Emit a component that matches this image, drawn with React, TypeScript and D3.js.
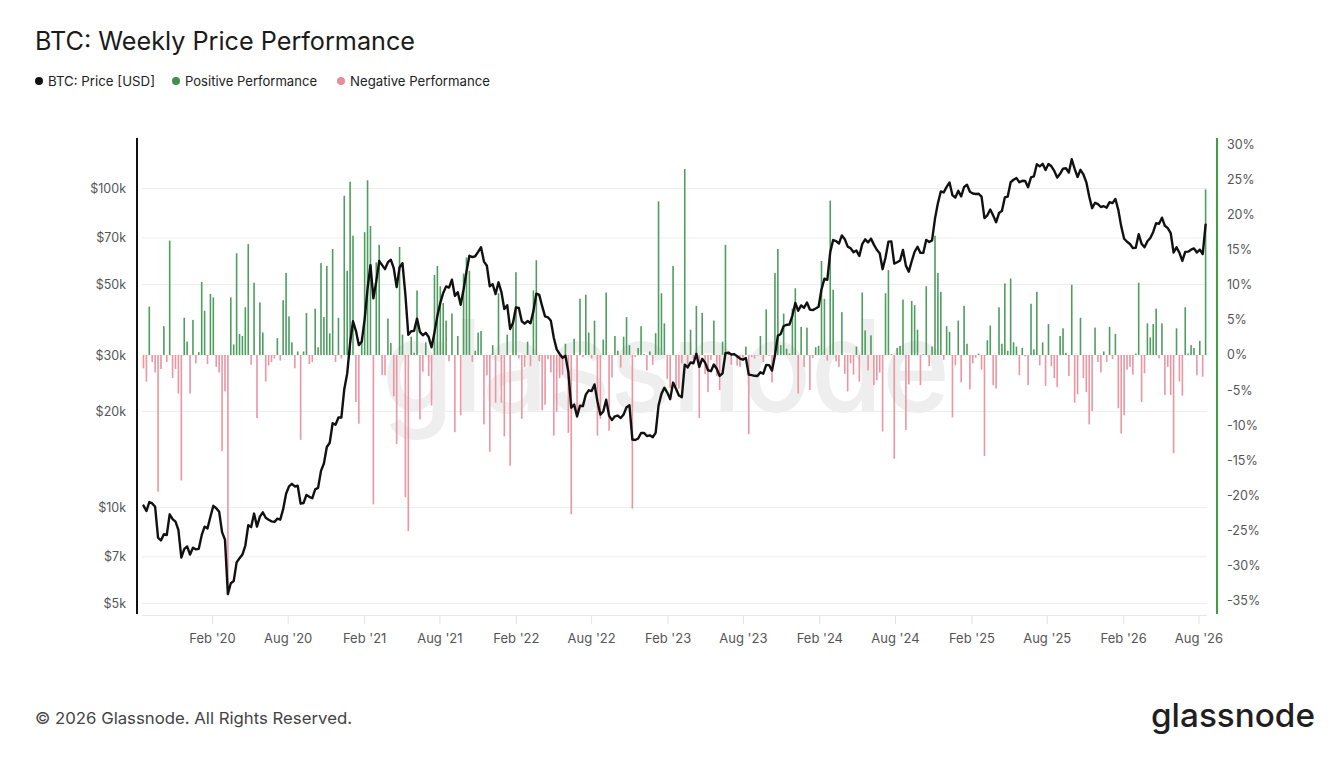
import React from "react";
import * as d3 from "d3";

// ---- data ----
const WEEK0 = "2019-08-19"; // first weekly bucket (Monday)

// BTC weekly close, thousands of USD
const PRICE_K = [
  10.14, 9.75, 10.4, 10.3, 10.05, 8.05, 7.88, 8.25, 8.2, 9.52,
  9.2, 9.03, 8.5, 6.97, 7.4, 7.55, 7.12, 7.48, 7.39, 7.42,
  8.19, 8.71, 8.6, 9.35, 10.12, 9.95, 9.7, 8.37, 7.93, 5.35,
  5.79, 5.88, 6.73, 6.93, 7.12, 7.6, 8.8, 8.68, 9.57, 8.71,
  9.36, 9.66, 9.29, 9.15, 9.05, 9.01, 9.23, 9.16, 9.88, 11.04,
  11.65, 11.86, 11.64, 11.7, 10.28, 10.33, 10.95, 10.8, 10.69, 11.4,
  11.52, 13.03, 13.74, 15.48, 15.96, 18.37, 18.18, 19.15, 19.14, 23.48,
  26.28, 32.78, 38.35, 35.79, 32.29, 33.11, 38.9, 48.58, 57.5, 45.24,
  51.2, 59.23, 57.52, 55.88, 58.76, 59.77, 56.25, 49.08, 56.62, 58.28,
  46.45, 34.77, 35.68, 35.8, 39.1, 35.52, 34.68, 35.29, 34.24, 31.78,
  35.4, 39.88, 43.8, 47.05, 49.34, 48.9, 51.77, 46.06, 47.29, 43.21,
  48.23, 54.94, 61.55, 60.93, 61.32, 63.3, 65.47, 59.0, 57.27, 49.39,
  50.1, 46.68, 50.8, 47.35, 41.86, 43.08, 36.28, 37.92, 42.41, 42.2,
  38.35, 37.7, 38.42, 37.79, 41.26, 46.82, 46.41, 42.76, 39.72, 39.47,
  38.47, 34.06, 31.31, 30.29, 29.44, 29.91, 26.58, 20.55, 21.03, 19.3,
  20.85, 20.79, 22.58, 23.3, 23.18, 24.31, 21.52, 19.56, 19.99, 21.77,
  19.42, 18.8, 19.31, 19.42, 19.07, 19.57, 20.63, 20.92, 16.33, 16.28,
  16.45, 17.13, 17.13, 16.76, 16.84, 16.61, 17.13, 20.88, 22.71, 23.74,
  22.93, 21.86, 24.64, 23.55, 22.43, 22.16, 28.04, 27.49, 28.48, 28.33,
  30.32, 27.59, 29.25, 28.45, 26.93, 26.75, 28.07, 27.22, 25.85, 26.34,
  30.48, 30.59, 30.17, 30.25, 29.79, 29.28, 29.06, 29.41, 26.1, 26.01,
  25.87, 25.84, 26.53, 26.26, 27.98, 27.94, 26.86, 29.99, 34.53, 35.01,
  37.06, 37.39, 37.48, 39.97, 43.78, 41.37, 43.01, 42.27, 43.93, 41.73,
  41.58, 42.04, 42.58, 48.3, 52.14, 51.73, 63.11, 68.96, 68.37, 67.21,
  71.29, 69.36, 65.74, 64.94, 63.12, 63.89, 61.46, 66.94, 69.29, 67.76,
  69.65, 66.68, 64.26, 62.68, 55.86, 60.8, 68.16, 68.26, 58.14, 58.71,
  59.49, 64.18, 57.3, 54.88, 59.13, 63.35, 65.64, 62.82, 62.85, 69.03,
  67.94, 68.78, 80.47, 89.85, 97.9, 97.18, 101.17, 104.46, 95.19, 93.72,
  98.31, 94.5, 101.09, 102.68, 97.69, 96.48, 96.13, 96.28, 94.26, 80.73,
  82.4, 85.9, 82.34, 78.37, 83.74, 85.07, 93.75, 94.32, 104.65, 106.49,
  107.78, 104.64, 105.7, 105.54, 100.97, 108.38, 109.22, 119.09, 117.3, 119.45,
  114.21, 119.29, 117.4, 113.49, 108.24, 111.14, 115.36, 115.72, 112.21, 123.51,
  115.17, 108.67, 114.47, 110.64, 104.72, 94.4, 86.8, 90.2, 89.3, 87.5,
  88.0, 87.1, 90.6, 90.0, 92.7, 85.7, 76.1, 69.6, 68.1, 67.0,
  65.1, 65.2, 71.9, 67.1, 65.4, 68.3, 70.0, 73.1, 77.9, 77.5,
  81.0, 76.4, 75.1, 72.5, 63.0, 65.4, 62.9, 59.3, 63.3, 63.4,
  64.3, 64.9, 63.0, 64.3, 62.3, 77.0,
];

// weekly price performance, %
const PERF = [
  -1.9, -3.8, 6.9, -1.0, -2.5, -19.5, -2.0, 4.1, -1.0, 16.3,
  -3.3, -2.0, -5.5, -17.9, 5.3, 1.9, -5.5, 5.0, -1.2, 0.4,
  10.4, 6.3, -1.3, 8.7, 8.2, -1.7, -2.5, -13.7, -5.2, -34.0,
  8.2, 1.5, 14.5, 3.0, 2.7, 6.8, 15.8, -1.4, 10.3, -9.0,
  7.5, 3.2, -3.8, -1.5, -1.0, -0.5, 2.4, -0.8, 7.8, 11.7,
  5.5, 1.8, -1.9, 0.5, -12.1, 0.5, 6.0, -1.3, -1.0, 6.6,
  1.1, 13.1, 5.4, 12.7, 3.1, 15.1, -1.0, 5.3, -0.5, 22.7,
  12.0, 24.7, 17.0, -6.7, -9.8, 2.5, 17.5, 24.9, 18.4, -21.3,
  13.2, 15.7, -2.9, -2.9, 5.2, 1.7, -5.9, -12.7, 15.4, 2.9,
  -20.3, -25.1, 2.6, 0.3, 9.2, -9.2, -2.4, 1.8, -3.0, -7.2,
  11.4, 12.7, 9.8, 7.4, 4.9, -0.9, 5.9, -11.0, 2.7, -8.6,
  11.6, 13.9, 12.0, -1.0, 0.6, 3.2, 3.4, -9.9, -2.9, -13.8,
  1.4, -6.8, 8.8, -6.8, -11.6, 2.9, -15.8, 4.5, 11.8, -0.5,
  -9.1, -1.7, 1.9, -1.6, 9.2, 13.5, -0.9, -7.9, -7.1, -0.6,
  -2.5, -11.5, -8.1, -3.3, -2.8, 1.6, -11.1, -22.7, 2.3, -8.2,
  8.0, -0.3, 8.6, 3.2, -0.5, 4.9, -11.5, -9.1, 2.2, 8.9,
  -10.8, -3.2, 2.7, 0.6, -1.8, 2.6, 5.4, 1.4, -21.9, -0.3,
  1.0, 4.1, 0.1, -2.2, 0.5, -1.4, 3.1, 21.9, 8.8, 4.5,
  -3.4, -4.7, 12.7, -4.4, -4.8, -1.2, 26.5, -2.0, 3.6, -0.5,
  7.0, -9.0, 6.0, -2.7, -5.3, -0.7, 4.9, -3.0, -5.0, 1.9,
  15.7, 0.4, -1.4, 0.3, -1.5, -1.7, -0.8, 1.2, -11.3, -0.3,
  -0.5, -0.1, 2.7, -1.0, 6.5, -0.1, -3.9, 11.7, 15.1, 1.4,
  5.9, 0.9, 0.2, 6.6, 9.5, -5.5, 4.0, -1.7, 3.9, -5.0,
  -0.4, 1.1, 1.3, 13.4, 8.0, -0.8, 22.0, 9.3, -0.9, -1.7,
  6.1, -2.7, -5.2, -1.2, -2.8, 1.2, -3.8, 8.9, 3.5, -2.2,
  2.8, -4.3, -3.6, -2.5, -10.9, 8.8, 12.1, 0.1, -14.8, 1.0,
  1.3, 7.9, -10.7, -4.2, 7.7, 7.1, 3.6, -4.3, 0.1, 9.8,
  -1.6, 1.2, 17.0, 11.7, 9.0, -0.7, 4.1, 3.3, -8.9, -1.5,
  4.9, -3.9, 7.0, 1.6, -4.9, -1.2, -0.4, 0.2, -2.1, -14.4,
  2.1, 4.2, -4.3, -4.8, 6.8, 1.6, 10.2, 0.6, 10.9, 1.8,
  1.2, -2.9, 1.0, -0.2, -4.3, 7.3, 0.8, 9.0, -1.5, 1.8,
  -4.4, 4.4, -1.6, -3.3, -4.6, 2.7, 3.8, 0.3, -3.0, 10.0,
  -6.8, -5.6, 5.3, -3.3, -5.3, -9.9, -8.0, 3.9, -1.0, -2.5,
  0.5, -1.0, 4.0, -0.6, 3.0, -7.6, -11.2, -8.6, -2.1, -1.7,
  -2.8, 0.2, 10.3, -6.7, -2.6, 4.5, 2.5, 4.4, 6.6, -0.5,
  4.5, -5.7, -1.7, -5.7, -14.0, 3.8, -3.8, -5.8, 6.8, 0.2,
  1.4, 1.0, -2.9, 2.0, -3.1, 23.6,
];

const PRICE_TICKS = [5000, 7000, 10000, 20000, 30000, 50000, 70000, 100000];
const PRICE_TICK_LABELS = ["$5k", "$7k", "$10k", "$20k", "$30k", "$50k", "$70k", "$100k"];
const PERF_TICKS = [30, 25, 20, 15, 10, 5, 0, -5, -10, -15, -20, -25, -30, -35];
const X_TICKS = [
  "2020-02-01", "2020-08-01", "2021-02-01", "2021-08-01", "2022-02-01", "2022-08-01",
  "2023-02-01", "2023-08-01", "2024-02-01", "2024-08-01", "2025-02-01", "2025-08-01",
  "2026-02-01", "2026-08-01",
];

const TITLE = "BTC: Weekly Price Performance";
const LEGEND = [
  { label: "BTC: Price [USD]", color: "#111111" },
  { label: "Positive Performance", color: "#3f8f4f" },
  { label: "Negative Performance", color: "#e88d9b" },
];

const FONT = "Inter, 'Noto Sans', 'DejaVu Sans', sans-serif";
const GREEN = "#4f9d60";
const PINK = "#ec95a3";

export default function App() {
  const parse = d3.utcParse("%Y-%m-%d");
  const week0 = parse(WEEK0) as Date;
  const weeks = PERF.map((_, i) => d3.utcDay.offset(week0, 7 * i));

  const x = d3
    .scaleUtc()
    .domain([parse("2020-02-01") as Date, parse("2026-02-01") as Date])
    .range([212.5, 212.5 + 2192 * 0.4157]);
  const yPrice = d3.scaleLog().domain([10000, 100000]).range([507.5, 188.5]);
  const yPerf = d3.scaleLinear().domain([-35, 30]).range([600.5, 144.5]);

  const gridLeft = 142;
  const gridRight = 1207;
  const axisTop = 138;
  const axisBottom = 614;

  const line = d3
    .line<number>()
    .x((_, i) => x(weeks[i]))
    .y((v) => yPrice(v * 1000))
    .curve(d3.curveLinear);

  const xTickFmt = d3.utcFormat("%b '%y");
  const barW = 1.6;
  const y0 = yPerf(0);

  const legendX = [39, 176, 341];
  const legendW = [107, 132, 140];

  return (
    <svg
      width={1340}
      height={760}
      style={{ position: "absolute", left: 0, top: 0, background: "#fff" }}
      fontFamily={FONT}
    >
      <rect x={0} y={0} width={1340} height={760} fill="#ffffff" />
      <text
        x={35}
        y={50}
        fontSize={25}
        fill="#1a1a1a"
        fontWeight={400}
        textLength={380}
        lengthAdjust="spacingAndGlyphs"
      >
        {TITLE}
      </text>
      {LEGEND.map((d, i) => (
        <g key={d.label}>
          <circle cx={legendX[i]} cy={81} r={4} fill={d.color} />
          <text
            x={legendX[i] + 9}
            y={85.5}
            fontSize={13.2}
            fill="#222"
            textLength={legendW[i]}
            lengthAdjust="spacingAndGlyphs"
          >
            {d.label}
          </text>
        </g>
      ))}

      {/* grid */}
      {PRICE_TICKS.map((t) => (
        <line
          key={"g" + t}
          x1={gridLeft}
          x2={gridRight}
          y1={yPrice(t)}
          y2={yPrice(t)}
          stroke="#ededed"
          strokeWidth={1}
        />
      ))}
      <line x1={gridLeft} x2={gridRight} y1={615.5} y2={615.5} stroke="#e6e6e6" strokeWidth={1} />
      {X_TICKS.map((s) => {
        const d = parse(s) as Date;
        const xx = x(d);
        return (
          <g key={s}>
            <line x1={xx} x2={xx} y1={616} y2={624} stroke="#e2e2e2" strokeWidth={1} />
            <text x={xx} y={643} fontSize={13} fill="#555" textAnchor="middle">
              {xTickFmt(d)}
            </text>
          </g>
        );
      })}

      {/* watermark */}
      <text
        x={666}
        y={412}
        fontSize={128}
        fontWeight={500}
        fill="#eeeeee"
        textAnchor="middle"
        textLength={568}
        lengthAdjust="spacingAndGlyphs"
      >
        glassnode
      </text>

      {/* bars */}
      {PERF.map((v, i) => {
        const yy = yPerf(v);
        return (
          <rect
            key={"b" + i}
            x={x(weeks[i]) - barW / 2}
            y={Math.min(yy, y0)}
            width={barW}
            height={Math.max(0.6, Math.abs(yy - y0))}
            fill={v >= 0 ? GREEN : PINK}
          />
        );
      })}

      {/* price line */}
      <path
        d={line(PRICE_K) || ""}
        fill="none"
        stroke="#111"
        strokeWidth={2.4}
        strokeLinejoin="round"
        strokeLinecap="round"
      />

      {/* left axis */}
      <line x1={137} x2={137} y1={axisTop} y2={axisBottom} stroke="#111" strokeWidth={2} />
      {PRICE_TICKS.map((t, i) => (
        <text
          key={"l" + t}
          x={126}
          y={yPrice(t) + 4.5}
          fontSize={12.5}
          fill="#555"
          textAnchor="end"
        >
          {PRICE_TICK_LABELS[i]}
        </text>
      ))}

      {/* right axis */}
      <line x1={1217} x2={1217} y1={axisTop} y2={axisBottom} stroke="#3fa03f" strokeWidth={2} />
      {PERF_TICKS.map((t) => (
        <text key={"r" + t} x={1227} y={yPerf(t) + 4.5} fontSize={12.5} fill="#555">
          {t + "%"}
        </text>
      ))}

      {/* footer */}
      <text
        x={35}
        y={724}
        fontSize={16.5}
        fill="#444"
        textLength={317}
        lengthAdjust="spacingAndGlyphs"
      >
        © 2026 Glassnode. All Rights Reserved.
      </text>
      <text
        x={1151}
        y={727}
        fontSize={33}
        fontWeight={500}
        fill="#1f1f1f"
        textLength={164}
        lengthAdjust="spacingAndGlyphs"
      >
        glassnode
      </text>
    </svg>
  );
}
